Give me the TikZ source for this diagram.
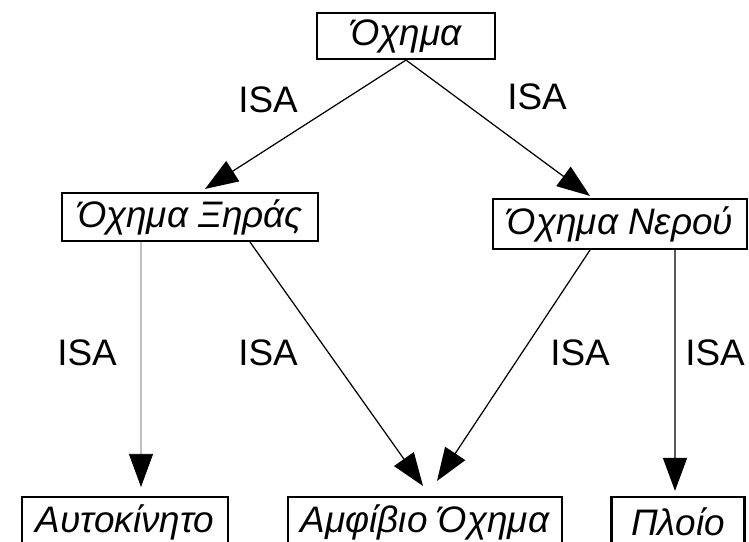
\documentclass[tikz,border=0pt]{standalone}
\usepackage{fontspec}
\setmainfont{Liberation Sans}
\usetikzlibrary{arrows.meta}
\begin{document}
\begin{tikzpicture}[x=0.02cm,y=-0.02cm,
    class box/.style={draw,line width=1.2pt,inner sep=0pt,font=\fontsize{21}{25}\selectfont\itshape},
    isa line/.style={line width=0.7pt,-{Triangle[length=0.66cm,width=0.48cm,black]}},
    isa text/.style={font=\fontsize{21}{25}\selectfont}]
  \useasboundingbox (0,0) rectangle (749,541); % frame of the picture
  \node[class box,minimum width=3.56cm,minimum height=0.92cm] (vehicle) at (406,36) {Όχημα};
  \node[class box,minimum width=5.12cm,minimum height=0.96cm] (land) at (190,217) {Όχημα Ξηράς};
  \node[class box,minimum width=5.08cm,minimum height=1cm] (water) at (620,224) {Όχημα Νερού};
  \node[class box,minimum width=4.12cm,minimum height=1cm] (car) at (125,522) {Αυτοκίνητο};
  \node[class box,minimum width=5.48cm,minimum height=1cm] (amph) at (425,522) {Αμφίβιο Όχημα};
  \node[class box,minimum width=2.66cm,minimum height=1cm] (ship) at (678,522) {Πλοίο};
  \draw[isa line] (vehicle.south) -- ([xshift=0.3cm,yshift=0.06cm]land.north); % to land
  \draw[isa line] (vehicle.south) -- ([xshift=-0.6cm,yshift=0.04cm]water.north); % to water
  \draw[isa line,line width=0.4pt,black!70] ([xshift=-0.98cm]land.south) -- ([xshift=0.32cm,yshift=0.18cm]car.north); % thin one
  \draw[isa line] ([xshift=1.2cm]land.south) -- ([xshift=-0.04cm,yshift=0.2cm]amph.north);
  \draw[isa line] ([xshift=-0.6cm]water.south) -- ([xshift=0.24cm,yshift=0.3cm]amph.north);
  \draw[isa line] ([xshift=1.1cm]water.south) -- ([xshift=-0.06cm,yshift=0.1cm]ship.north);
  \node[isa text] (isa1) at (268,100) {ISA}; % labels
  \node[isa text] (isa2) at (537,97) {ISA};
  \node[isa text] (isa3) at (87,353) {ISA};
  \node[isa text] (isa4) at (268,353) {ISA};
  \node[isa text] (isa5) at (580,353) {ISA};
  \node[isa text] (isa6) at (715,353) {ISA};
\end{tikzpicture}
\end{document}
